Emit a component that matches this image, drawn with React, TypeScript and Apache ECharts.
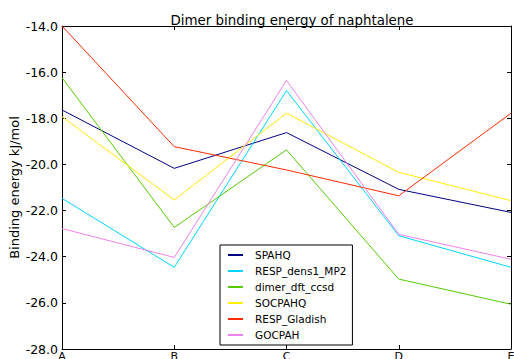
import React, { useEffect, useRef } from "react";
import * as echarts from "echarts";

const categories = ["A", "B", "C", "D", "E"];
const seriesNames = ["SPAHQ", "RESP_dens1_MP2", "dimer_dft_ccsd", "SOCPAHQ", "RESP_Gladish", "GOCPAH"];
const spahq = [-17.64, -20.17, -18.62, -21.08, -22.08];
const respDens1Mp2 = [-21.47, -24.46, -16.8, -23.09, -24.46];
const dimerDftCcsd = [-16.24, -22.73, -19.37, -24.97, -26.06];
const socpahq = [-17.93, -21.54, -17.78, -20.34, -21.57];
const respGladish = [-14.0, -19.23, -20.24, -21.36, -17.78];
const gocpah = [-22.78, -24.03, -16.36, -23.03, -24.11];
const seriesColors = ["#000080", "#00d4ff", "#55cc00", "#ffee00", "#ff2a00", "#ee82ee"];
const yMin = -28;
const yMax = -14;
const yInterval = 2;

export default function App() {
  const ref = useRef<HTMLDivElement>(null);
  useEffect(() => {
    if (!ref.current) return;
    const chart = echarts.init(ref.current, undefined, { renderer: "svg" });
    const values = [spahq, respDens1Mp2, dimerDftCcsd, socpahq, respGladish, gocpah];
    const font = "DejaVu Sans";
    const tickStyle = { show: true, inside: true, length: 4, lineStyle: { color: "#000", width: 1 } };
    chart.setOption({
      animation: false,
      textStyle: { fontFamily: font },
      title: {
        text: "Dimer binding energy of naphtalene",
        left: 287,
        textAlign: "center",
        top: 9,
        textStyle: { fontSize: 13.4, fontWeight: "normal", color: "#000", fontFamily: font },
      },
      grid: { left: 62, right: 3, top: 26, bottom: 23, containLabel: false, outerBoundsMode: "none" },
      legend: {
        orient: "vertical",
        left: 220,
        top: 245,
        data: seriesNames,
        icon: "rect",
        itemWidth: 15,
        itemHeight: 2,
        itemGap: 2,
        padding: [3, 6, 3, 8],
        borderColor: "#000",
        borderWidth: 1,
        backgroundColor: "#fff",
        textStyle: { fontSize: 10.5, lineHeight: 14, color: "#000", fontFamily: font, padding: [0, 0, 0, 7] },
      },
      xAxis: [
        {
          type: "category",
          data: categories,
          boundaryGap: false,
          position: "bottom",
          axisLine: { show: true, lineStyle: { color: "#000", width: 1 } },
          axisTick: { ...tickStyle, alignWithLabel: true },
          axisLabel: { color: "#000", fontSize: 11, margin: 2, fontFamily: font },
          splitLine: { show: false },
        },
        {
          type: "category",
          data: categories,
          boundaryGap: false,
          position: "top",
          axisLine: { show: true, lineStyle: { color: "#000", width: 1 } },
          axisTick: tickStyle,
          axisLabel: { show: false },
          splitLine: { show: false },
        },
      ],
      yAxis: [
        {
          type: "value",
          min: yMin,
          max: yMax,
          interval: yInterval,
          position: "left",
          name: "Binding energy kJ/mol",
          nameLocation: "middle",
          nameGap: 41,
          nameMoveOverlap: false,
          nameTextStyle: { fontSize: 13, color: "#000", fontFamily: font },
          axisLine: { show: true, lineStyle: { color: "#000", width: 1 } },
          axisTick: tickStyle,
          axisLabel: {
            color: "#000",
            fontSize: 12.5,
            margin: 4,
            fontFamily: font,
            formatter: (v: number) => v.toFixed(1),
          },
          splitLine: { show: false },
        },
        {
          type: "value",
          min: yMin,
          max: yMax,
          interval: yInterval,
          position: "right",
          axisLine: { show: true, lineStyle: { color: "#000", width: 1 } },
          axisTick: tickStyle,
          axisLabel: { show: false },
          splitLine: { show: false },
        },
      ],
      series: seriesNames.map((name, i) => ({
        name,
        type: "line",
        data: values[i],
        xAxisIndex: 0,
        yAxisIndex: 0,
        symbol: "none",
        lineStyle: { color: seriesColors[i], width: 1 },
        itemStyle: { color: seriesColors[i] },
      })),
    });
    return () => chart.dispose();
  }, []);
  return (
    <div
      ref={ref}
      style={{ position: "absolute", left: 0, top: 0, width: 514, height: 372, background: "#fff" }}
    />
  );
}
